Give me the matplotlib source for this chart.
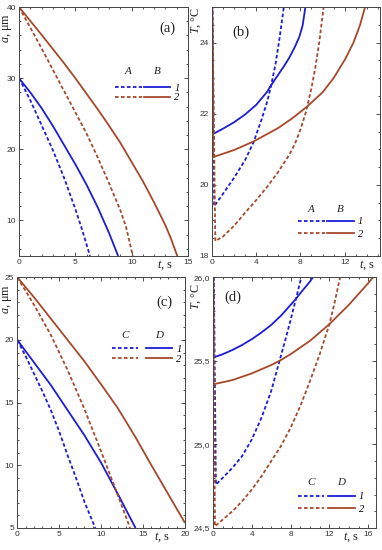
import matplotlib
matplotlib.use('Agg')
import matplotlib.pyplot as plt
from matplotlib.lines import Line2D
from matplotlib.ticker import MultipleLocator, FuncFormatter
from matplotlib.font_manager import FontProperties

plt.rcParams['mathtext.fontset'] = 'custom'
plt.rcParams['mathtext.rm'] = 'Liberation Serif'
plt.rcParams['mathtext.it'] = 'Liberation Serif:italic'

# ---------------- data ----------------
# panel (a): droplet radius a (um) vs t (s)
a_t_A1 = [0, 1, 2, 3, 4, 5, 5.5, 6, 6.3]
a_A1 = [30, 26.9, 23.4, 19.9, 16.0, 11.6, 9.2, 6.6, 5]
a_t_B1 = [0, 1, 2, 3, 4, 5, 6, 7, 8, 8.8]
a_B1 = [30, 28.0, 25.8, 23.3, 20.6, 17.9, 15.0, 11.8, 8.2, 5]
a_t_A2 = [0, 1, 2, 3, 4, 5, 6, 7, 8, 9, 9.5, 10.1]
a_A2 = [40, 37.1, 34.2, 31.2, 28.2, 25.2, 22.2, 18.8, 15.2, 11.4, 9.1, 5]
a_t_B2 = [0, 1, 2, 3, 4, 5, 6, 7, 8, 9, 10, 11, 12, 13, 13.5, 14.05]
a_B2 = [40, 38.05, 36.1, 34.1, 32.1, 30.0, 27.8, 25.6, 23.3, 20.9, 18.2, 15.5, 12.5, 9.3, 7.4, 5]

# panel (b): temperature T (C) vs t (s)
b_t_A1 = [0, 0.2, 1, 2, 3, 3.76, 4.5, 5.0, 5.3, 5.75, 6.1, 6.5]
b_A1 = [26, 19.4, 19.75, 20.2, 20.7, 21.2, 21.85, 22.35, 22.72, 23.4, 24.1, 25.0]
b_t_B1 = [0, 0.1, 1, 2, 3, 4, 5, 5.3, 6, 6.5, 7, 7.5, 7.9, 8.2, 8.45]
b_B1 = [26, 21.43, 21.58, 21.76, 21.98, 22.25, 22.62, 22.78, 23.1, 23.33, 23.58, 23.88, 24.16, 24.48, 25.0]
b_t_A2 = [0, 0.3, 1, 2, 3, 4, 5, 6, 7, 7.5, 8, 8.5, 9, 9.35, 9.7, 10.1]
b_A2 = [26, 18.42, 18.55, 18.85, 19.22, 19.57, 19.95, 20.37, 20.85, 21.15, 21.55, 22.05, 22.72, 23.3, 24.0, 25.0]
b_t_B2 = [0, 0.1, 2, 3.76, 6, 7.3, 8.6, 10, 11, 12.06, 12.8, 13.4, 13.85]
b_B2 = [26, 20.78, 20.98, 21.22, 21.6, 21.88, 22.2, 22.6, 23.0, 23.54, 24.0, 24.5, 25.0]

# panel (c): a vs t
c_t_C1 = [0, 1, 2, 3, 4, 5, 6, 7, 8, 9.3]
c_C1 = [20, 18.7, 17.3, 15.9, 14.4, 12.7, 10.8, 9.0, 7.1, 5]
c_t_D1 = [0, 2, 4, 6, 8, 10, 12, 14.1]
c_D1 = [20, 18.2, 16.4, 14.4, 12.4, 10.2, 7.7, 5]
c_t_C2 = [0, 2, 4, 6, 8, 10, 12, 13.45]
c_C2 = [25, 22.8, 20.4, 17.6, 14.5, 11.1, 7.6, 5]
c_t_D2 = [0, 2, 4, 6, 8, 10, 12, 14, 16, 18, 20]
c_D2 = [25, 23.4, 21.7, 20.0, 18.3, 16.45, 14.55, 12.35, 10.0, 7.7, 5.4]

# panel (d): T vs t
d_t_C1 = [0, 0.3, 1, 2, 3, 4, 5, 6, 7, 7.5, 8, 8.5, 9.1]
d_C1 = [26.5, 24.76, 24.8, 24.86, 24.93, 25.03, 25.16, 25.32, 25.53, 25.635, 25.745, 25.86, 26.0]
d_t_D1 = [0, 0.05, 1, 2, 3, 4, 5, 6, 7, 8, 8.53, 9, 10, 10.3]
d_D1 = [26.5, 25.52, 25.54, 25.565, 25.595, 25.63, 25.67, 25.715, 25.77, 25.835, 25.87, 25.905, 25.975, 26.0]
d_t_C2 = [0, 0.2, 1, 2, 3, 4, 5, 6, 7, 8, 9, 10, 11, 12, 12.5, 13.1]
d_C2 = [26.5, 24.51, 24.55, 24.6, 24.66, 24.73, 24.81, 24.9, 24.99, 25.1, 25.23, 25.38, 25.54, 25.72, 25.84, 26.0]
d_t_D2 = [0, 0.05, 2, 4, 6, 7, 8, 10, 12, 14, 16, 16.5]
d_D2 = [26.5, 25.36, 25.385, 25.425, 25.475, 25.505, 25.54, 25.62, 25.72, 25.835, 25.965, 26.0]

legend_heads = [('A', 'B'), ('A', 'B'), ('C', 'D'), ('C', 'D')]
row_labels = ['1', '2']
panel_names = ['(a)', '(b)', '(c)', '(d)']

# ---------------- style ----------------
BLUE = '#1c1cd8'
BROWN = '#a5492b'
DASH = (0, (2.0, 1.3))
LW = 1.3
SERIF = 'Liberation Serif'
SANS = 'Liberation Sans'
TICKC = '#333333'

W, H = 382, 550
fig = plt.figure(figsize=(W / 100, H / 100), dpi=100)


def axpos(x0, y0, x1, y1):
    return [x0 / W, (H - y1) / H, (x1 - x0) / W, (y1 - y0) / H]


ax_a = fig.add_axes(axpos(19, 7, 188, 256))
ax_b = fig.add_axes(axpos(212, 7, 380, 256))
ax_c = fig.add_axes(axpos(17.3, 277.3, 185, 528))
ax_d = fig.add_axes(axpos(213, 277.3, 376, 528))

series = [
    (ax_a, [(a_t_A1, a_A1), (a_t_B1, a_B1), (a_t_A2, a_A2), (a_t_B2, a_B2)]),
    (ax_b, [(b_t_A1, b_A1), (b_t_B1, b_B1), (b_t_A2, b_A2), (b_t_B2, b_B2)]),
    (ax_c, [(c_t_C1, c_C1), (c_t_D1, c_D1), (c_t_C2, c_C2), (c_t_D2, c_D2)]),
    (ax_d, [(d_t_C1, d_C1), (d_t_D1, d_D1), (d_t_C2, d_C2), (d_t_D2, d_D2)]),
]
styles = [(BLUE, DASH), (BLUE, '-'), (BROWN, DASH), (BROWN, '-')]

for ax, ser in series:
    for (t, v), (c, ls) in zip(ser, styles):
        ax.plot(t, v, color=c, ls=ls, lw=LW, solid_capstyle='butt', solid_joinstyle='round')

# limits & ticks
ax_a.set_xlim(0, 15); ax_a.set_ylim(5, 40)
ax_b.set_xlim(0, 15.2); ax_b.set_ylim(18, 25)
ax_c.set_xlim(0, 20); ax_c.set_ylim(5, 25)
ax_d.set_xlim(0, 16.8); ax_d.set_ylim(24.5, 26.0)

ticks = {
    ax_a: (5, 1, 10, 2),
    ax_b: (4, 1, 2, 0.5),
    ax_c: (5, 1, 5, 1),
    ax_d: (4, 1, 0.5, 0.1),
}
for ax, (xM, xm, yM, ym) in ticks.items():
    ax.xaxis.set_major_locator(MultipleLocator(xM))
    ax.xaxis.set_minor_locator(MultipleLocator(xm))
    ax.yaxis.set_major_locator(MultipleLocator(yM))
    ax.yaxis.set_minor_locator(MultipleLocator(ym))
    ax.tick_params(which='both', direction='in', top=True, right=True,
                   colors=TICKC, width=0.6, labelsize=6, pad=2.2)
    ax.tick_params(which='major', length=3)
    ax.tick_params(which='minor', length=1.6)
    for s in ax.spines.values():
        s.set_color('#444444')
        s.set_linewidth(0.7)

ax_d.yaxis.set_major_formatter(FuncFormatter(lambda v, p: f'{v:.1f}'.replace('.', ',')))
for ax in (ax_a, ax_b, ax_c, ax_d):
    for lab in ax.get_xticklabels() + ax.get_yticklabels():
        lab.set_fontfamily(SANS)

# axis labels
ylab_pos = {ax_a: (-0.068, 0.915), ax_b: (-0.092, 0.945), ax_c: (-0.058, 0.915), ax_d: (-0.104, 0.925)}
ylab_txt = {ax_a: r'$a$, μm', ax_b: r'$T$, °C', ax_c: r'$a$, μm', ax_d: r'$T$, °C'}
for ax, (x, y) in ylab_pos.items():
    ax.text(x, y, ylab_txt[ax], transform=ax.transAxes, rotation=90,
            ha='center', va='center', fontsize=8.7, family=SERIF, color='#222222')

xlab_x = {ax_a: 12.95, ax_b: 14.0, ax_c: 17.25, ax_d: 14.2}
for ax, xv in xlab_x.items():
    ax.annotate(r'$t$, s', xy=(xv, 0), xycoords=ax.get_xaxis_transform(),
                xytext=(0, -6.3), textcoords='offset points', ha='center', va='center',
                fontsize=9, family=SERIF, color='#222222')

# panel labels
pl_pos = {ax_a: (0.88, 0.915), ax_b: (0.17, 0.9), ax_c: (0.88, 0.9), ax_d: (0.12, 0.92)}
for (ax, (x, y)), name in zip(pl_pos.items(), panel_names):
    ax.text(x, y, name, transform=ax.transAxes, ha='center', va='center',
            fontsize=10.5, family=SERIF, color='#222222')

# legends
legprop = FontProperties(family=SERIF, style='italic', size=7.5)
leg_cfg = {
    ax_a: dict(anchor=(0.568, 0.655), colsp=-0.2, lsp=0.05, hoff=15),
    ax_b: dict(anchor=(0.512, 0.1125), colsp=-0.15, lsp=0.3, hoff=11.5),
    ax_c: dict(anchor=(0.563, 0.694), colsp=0.3, lsp=0.05, hoff=12.6),
    ax_d: dict(anchor=(0.52, 0.0995), colsp=-0.05, lsp=0.3, hoff=13.3),
}
legs = {}
for ax, cfg in leg_cfg.items():
    hs = [Line2D([], [], color=BLUE, ls=DASH, lw=LW),
          Line2D([], [], color=BROWN, ls=DASH, lw=LW),
          Line2D([], [], color=BLUE, ls='-', lw=LW),
          Line2D([], [], color=BROWN, ls='-', lw=LW)]
    leg = ax.legend(hs, ['', '', row_labels[0], row_labels[1]], ncol=2,
                    loc='center left', bbox_to_anchor=cfg['anchor'],
                    frameon=False, prop=legprop, borderpad=0, borderaxespad=0,
                    handlelength=2.55, handletextpad=0.4,
                    columnspacing=cfg['colsp'], labelspacing=cfg['lsp'])
    legs[ax] = leg

fig.canvas.draw()
r = fig.canvas.get_renderer()
for (ax, leg), heads in zip(legs.items(), legend_heads):
    hl = leg.legend_handles
    for h, txt in zip([hl[0], hl[2]], heads):
        bb = h.get_window_extent(r)
        xc = 0.5 * (bb.x0 + bb.x1)
        yc = 0.5 * (bb.y0 + bb.y1) + leg_cfg[ax]['hoff']
        xa, ya = ax.transAxes.inverted().transform((xc, yc))
        ax.text(xa, ya, txt, transform=ax.transAxes, ha='center', va='center',
                fontproperties=FontProperties(family=SERIF, style='italic', size=8),
                color='#222222')

fig.savefig('out.png', dpi=100)
